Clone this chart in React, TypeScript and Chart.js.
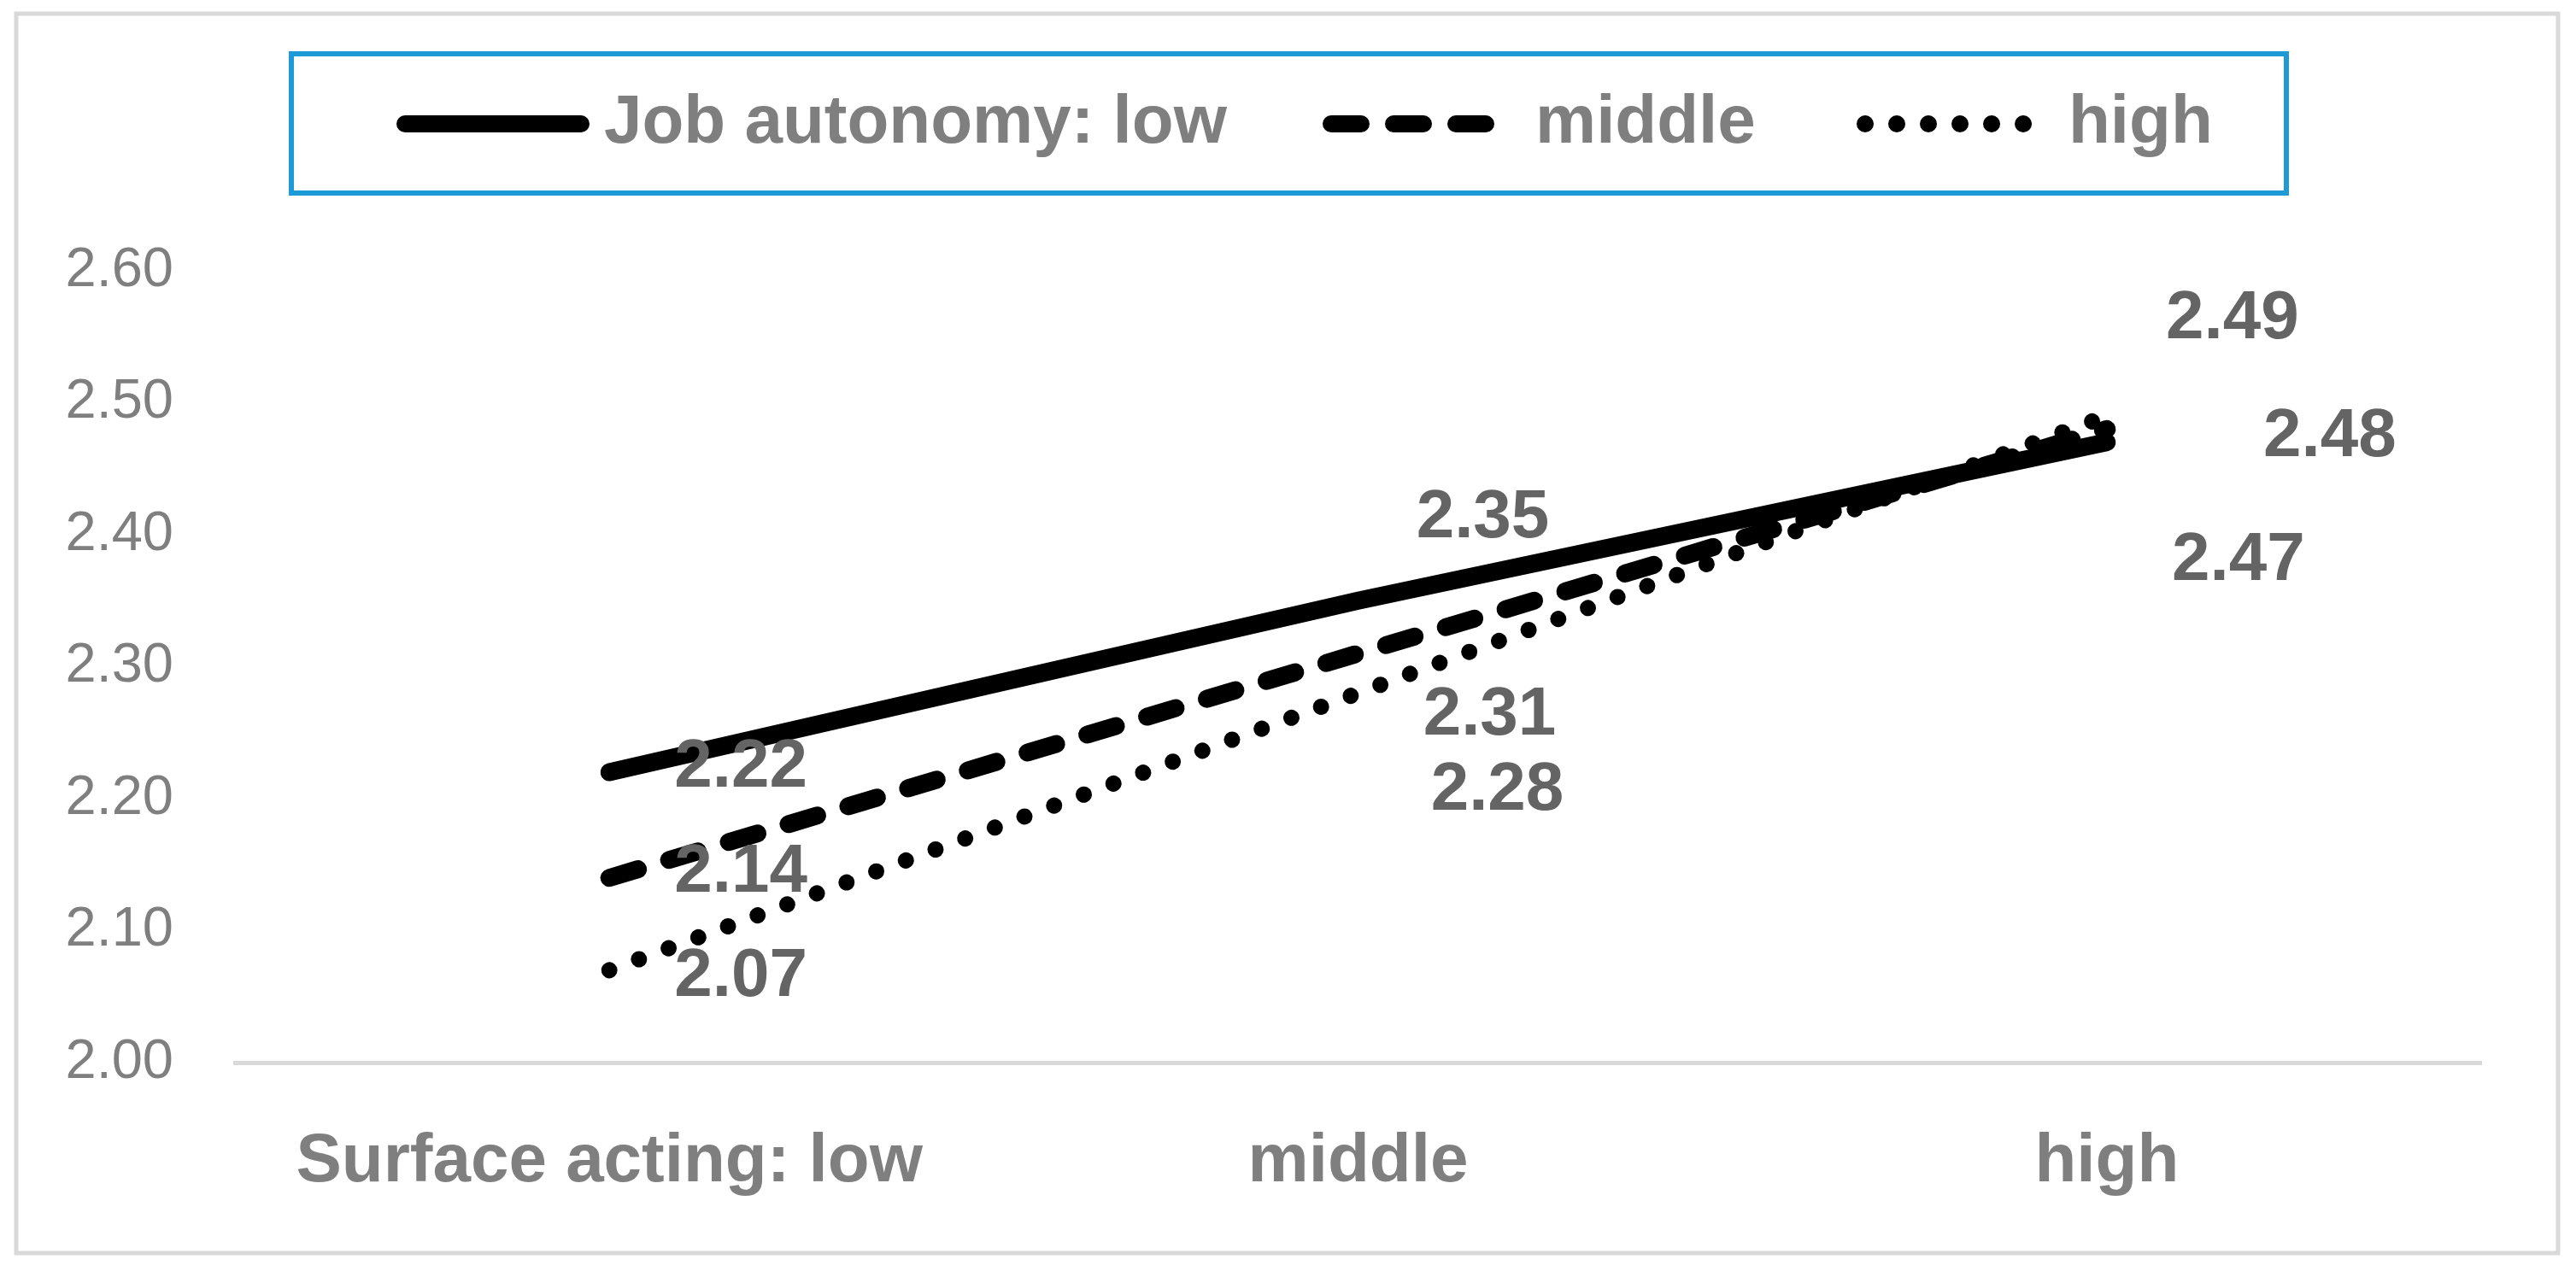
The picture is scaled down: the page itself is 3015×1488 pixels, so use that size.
import { useEffect, useRef } from 'react';
import { Chart, registerables } from 'chart.js';

Chart.register(...registerables);

// ---- data ----
const categories = ['Surface acting: low', 'middle', 'high'];
const seriesNames = ['Job autonomy: low', 'middle', 'high'];
const lowValues = [2.22, 2.35, 2.47];
const middleValues = [2.14, 2.31, 2.48];
const highValues = [2.07, 2.28, 2.49];
const yMin = 2.0;
const yMax = 2.6;
const yStep = 0.1;

// ---- style ----
const FAMILY = "'Liberation Sans', Arial, sans-serif";
const lineWidths = [21, 21, 19];
const dashStyles: number[][] = [[], [35, 38], [0.01, 37]];
// label offsets (px) from each point, per series / per category
const labelOffsets: number[][][] = [
  [[154, -5], [146, -96], [154, 139]],
  [[154, -6], [154, 73], [261, 10]],
  [[154, 8], [163, 115], [147, -113]],
];
const legendSamples: number[][] = [[464, 690], [1548, 1754], [2173, 2380]];
const legendTextX = [707, 1797, 2421];
const LEGEND_Y = 145;

const decorPlugin = {
  id: 'decor',
  afterDatasetsDraw(chart: any) {
    const ctx = chart.ctx as CanvasRenderingContext2D;
    ctx.save();
    ctx.font = `bold 80px ${FAMILY}`;
    ctx.fillStyle = '#646464';
    ctx.textAlign = 'center';
    ctx.textBaseline = 'middle';
    chart.data.datasets.forEach((ds: any, di: number) => {
      const meta = chart.getDatasetMeta(di);
      meta.data.forEach((pt: any, i: number) => {
        const [dx, dy] = labelOffsets[di][i];
        ctx.fillText(Number(ds.data[i]).toFixed(2), pt.x + dx, pt.y + dy);
      });
    });
    ctx.restore();
  },
  afterDraw(chart: any) {
    const ctx = chart.ctx as CanvasRenderingContext2D;
    ctx.save();
    // outer border
    ctx.strokeStyle = '#d9d9d9';
    ctx.lineWidth = 5;
    ctx.strokeRect(19, 16, 2975, 1451);
    // legend box
    ctx.strokeStyle = '#1e9bd7';
    ctx.lineWidth = 6;
    ctx.strokeRect(341, 63, 2335, 163);
    // legend items
    chart.data.datasets.forEach((ds: any, di: number) => {
      const [x1, x2] = legendSamples[di];
      const w = 20;
      ctx.beginPath();
      ctx.lineWidth = w;
      ctx.strokeStyle = ds.borderColor;
      ctx.lineCap = 'round';
      ctx.setLineDash(ds.borderDash || []);
      ctx.moveTo(x1 + w / 2, LEGEND_Y);
      ctx.lineTo(x2 - w / 2, LEGEND_Y);
      ctx.stroke();
      ctx.setLineDash([]);
      ctx.font = `bold 80px ${FAMILY}`;
      ctx.fillStyle = '#7f7f7f';
      ctx.textAlign = 'left';
      ctx.textBaseline = 'middle';
      ctx.fillText(ds.label, legendTextX[di], LEGEND_Y);
    });
    ctx.restore();
  },
};

export default function App() {
  const ref = useRef<HTMLCanvasElement>(null);
  useEffect(() => {
    const canvas = ref.current!;
    const values = [lowValues, middleValues, highValues];
    const chart = new Chart(canvas, {
      type: 'line',
      data: {
        labels: categories,
        datasets: values.map((v, i) => ({
          label: seriesNames[i],
          data: v,
          borderColor: '#000000',
          backgroundColor: '#000000',
          borderWidth: lineWidths[i],
          borderCapStyle: 'round',
          borderJoinStyle: 'round',
          borderDash: dashStyles[i],
          pointRadius: 0,
          pointHoverRadius: 0,
          fill: false,
          tension: 0,
        })),
      },
      options: {
        animation: false,
        responsive: false,
        devicePixelRatio: 1,
        layout: { padding: { left: 0, right: 111, top: 317, bottom: 0 } },
        plugins: { legend: { display: false }, tooltip: { enabled: false } },
        scales: {
          x: {
            offset: true,
            grid: { display: false, drawTicks: false },
            border: { display: true, color: '#d9d9d9', width: 5 },
            ticks: {
              color: '#7f7f7f',
              font: { size: 80, weight: 'bold', family: FAMILY },
              padding: 69,
              maxRotation: 0,
              autoSkip: false,
            },
            afterFit: (s: any) => { s.height = 244; },
          },
          y: {
            min: yMin,
            max: yMax,
            grid: { display: false, drawTicks: false },
            border: { display: false },
            ticks: {
              stepSize: yStep,
              color: '#7f7f7f',
              font: { size: 65, family: FAMILY },
              padding: 72,
              callback: (v: any) => Number(v).toFixed(2),
            },
            afterFit: (s: any) => { s.width = 275; },
          },
        },
      } as any,
      plugins: [decorPlugin],
    });
    return () => chart.destroy();
  }, []);
  return (
    <div style={{ position: 'fixed', left: 0, top: 0, width: 3015, height: 1488, background: '#ffffff' }}>
      <canvas ref={ref} width={3015} height={1488} style={{ width: 3015, height: 1488, display: 'block' }} />
    </div>
  );
}
